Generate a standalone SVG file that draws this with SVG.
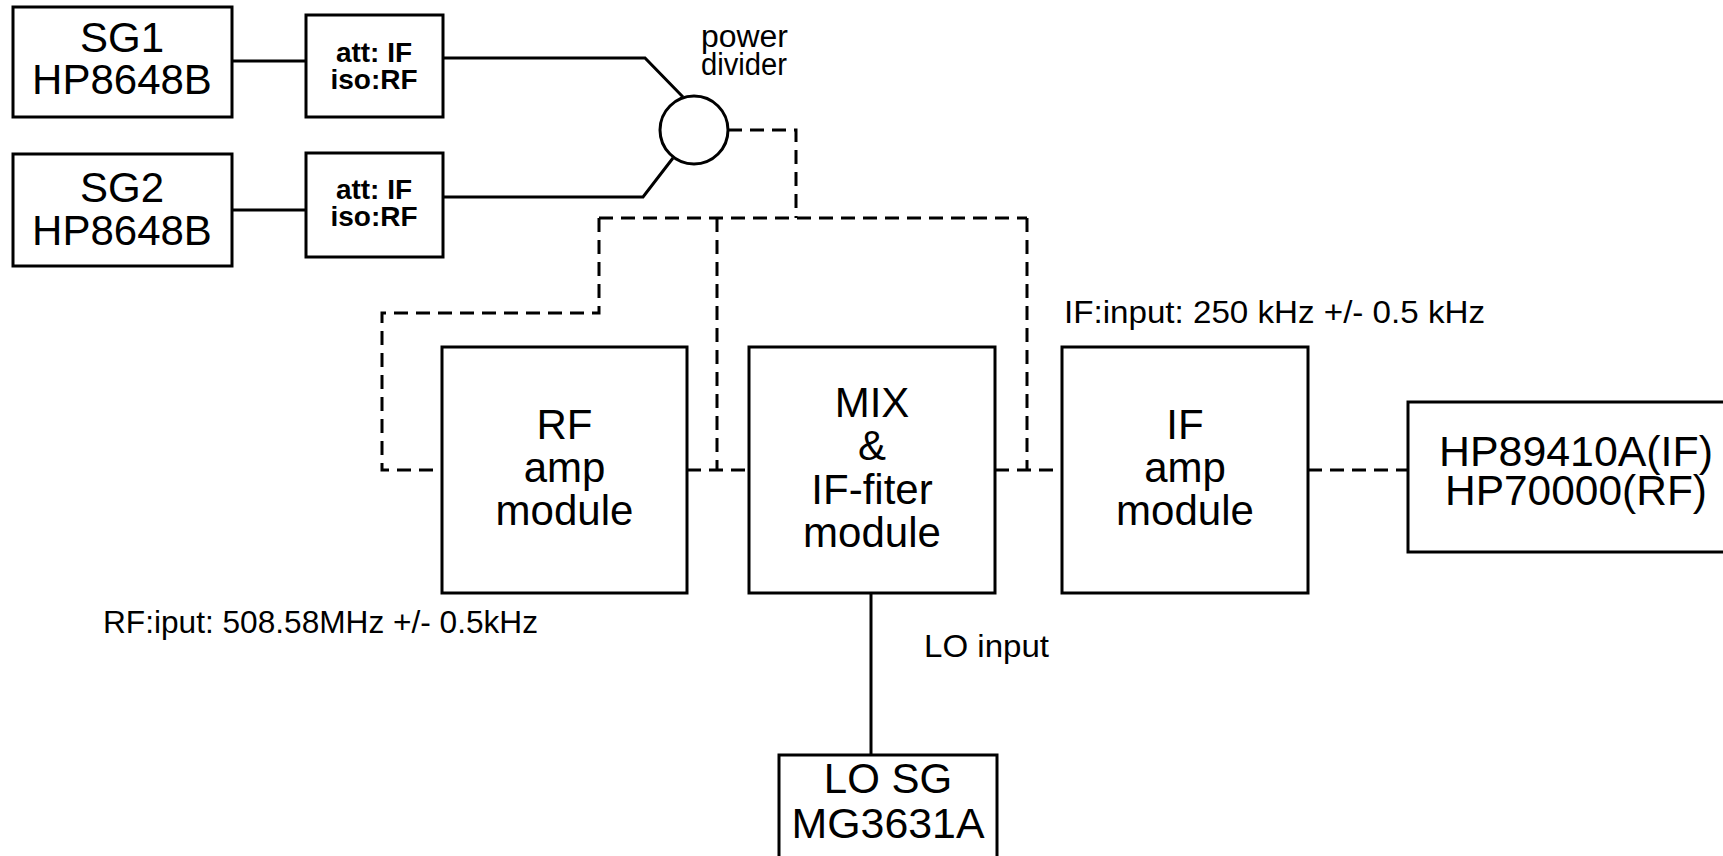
<svg xmlns="http://www.w3.org/2000/svg" width="1723" height="856" viewBox="0 0 1723 856">
<style>
.box{fill:#fff;stroke:#000;stroke-width:3}
.ln{fill:none;stroke:#000;stroke-width:3}
.dash{fill:none;stroke:#000;stroke-width:3;stroke-dasharray:14 8}
.big{font-family:"Liberation Sans",Arial,sans-serif;font-size:42px;text-anchor:middle;fill:#000}
.bold{font-family:"Liberation Sans",Arial,sans-serif;font-size:28px;font-weight:bold;text-anchor:middle;fill:#000}
.lbl{font-family:"Liberation Sans",Arial,sans-serif;font-size:31px;fill:#000}
</style>
<rect width="1723" height="856" fill="#fff"/>
<g id="connectors">
<path class="ln" d="M232,61 H306"/>
<path class="ln" d="M232,210 H306"/>
<path class="ln" d="M443,58 H645 L683,97"/>
<path class="ln" d="M443,197 H643 L673,158"/>
<path class="dash" d="M728,130 H796 V218"/>
<path class="dash" d="M599,218 H1027"/>
<path class="dash" d="M599,218 V313 H382 V470 H442"/>
<path class="dash" d="M717,218 V470"/>
<path class="dash" d="M687,470 H749"/>
<path class="dash" d="M1027,218 V470"/>
<path class="dash" d="M995,470 H1062"/>
<path class="dash" d="M1308,470 H1408"/>
<path class="ln" d="M871,593 V755"/>
</g>
<g id="sg1">
<rect class="box" x="13" y="7" width="219" height="110"/>
<text class="big" x="122" y="52">SG1</text>
<text class="big" x="122" y="94">HP8648B</text>
</g>
<g id="sg2">
<rect class="box" x="13" y="154" width="219" height="112"/>
<text class="big" x="122" y="202">SG2</text>
<text class="big" x="122" y="245">HP8648B</text>
</g>
<g id="att1">
<rect class="box" x="306" y="15" width="137" height="102"/>
<text class="bold" x="374" y="62">att: IF</text>
<text class="bold" x="374" y="89">iso:RF</text>
</g>
<g id="att2">
<rect class="box" x="306" y="153" width="137" height="104"/>
<text class="bold" x="374" y="199">att: IF</text>
<text class="bold" x="374" y="226">iso:RF</text>
</g>
<g id="divider">
<circle class="box" cx="694" cy="130" r="34"/>
<text class="lbl" x="701" y="47" textLength="87" lengthAdjust="spacingAndGlyphs">power</text>
<text class="lbl" x="701" y="75" textLength="86" lengthAdjust="spacingAndGlyphs">divider</text>
</g>
<g id="rfamp">
<rect class="box" x="442" y="347" width="245" height="246"/>
<text class="big" x="564.5" y="439">RF</text>
<text class="big" x="564.5" y="482">amp</text>
<text class="big" x="564.5" y="525">module</text>
</g>
<g id="mix">
<rect class="box" x="749" y="347" width="246" height="246"/>
<text class="big" x="872" y="417">MIX</text>
<text class="big" x="872" y="460">&amp;</text>
<text class="big" x="872" y="504">IF-fiter</text>
<text class="big" x="872" y="547">module</text>
</g>
<g id="ifamp">
<rect class="box" x="1062" y="347" width="246" height="246"/>
<text class="big" x="1185" y="439">IF</text>
<text class="big" x="1185" y="482">amp</text>
<text class="big" x="1185" y="525">module</text>
</g>
<g id="analyzer">
<rect class="box" x="1408" y="402" width="340" height="150"/>
<text class="big" x="1576" y="466" textLength="274" lengthAdjust="spacingAndGlyphs">HP89410A(IF)</text>
<text class="big" x="1576" y="505" textLength="262" lengthAdjust="spacingAndGlyphs">HP70000(RF)</text>
</g>
<g id="losg">
<rect class="box" x="779" y="755" width="218" height="110"/>
<text class="big" x="888" y="793">LO SG</text>
<text class="big" x="888" y="838" textLength="193" lengthAdjust="spacingAndGlyphs">MG3631A</text>
</g>
<g id="labels">
<text class="lbl" x="1064" y="323" textLength="421" lengthAdjust="spacingAndGlyphs">IF:input: 250 kHz +/- 0.5 kHz</text>
<text class="lbl" x="103" y="633" textLength="435" lengthAdjust="spacingAndGlyphs">RF:iput: 508.58MHz +/- 0.5kHz</text>
<text class="lbl" x="924" y="657" font-size="32" textLength="125" lengthAdjust="spacingAndGlyphs">LO input</text>
</g>
</svg>
